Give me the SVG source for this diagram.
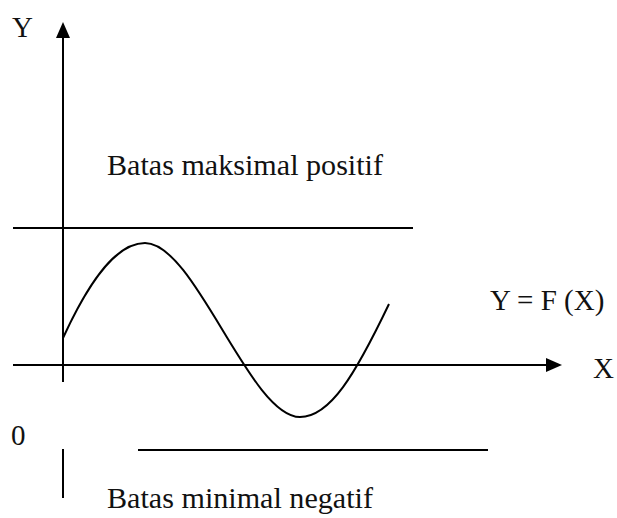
<svg xmlns="http://www.w3.org/2000/svg" width="617" height="518" viewBox="0 0 617 518">
<style>
.ln{stroke:#000;stroke-width:2;fill:none}
.t{font-family:"Liberation Serif","Times New Roman",serif;font-size:29px;fill:#111}
</style>
<defs>
<marker id="ah" markerWidth="16" markerHeight="14" refX="0" refY="7" orient="auto" markerUnits="userSpaceOnUse">
<path d="M0,0 L16,7 L0,14 Z" fill="#000"/>
</marker>
</defs>
<rect width="617" height="518" fill="#fff"/>
<g id="connectors">
<line id="y-axis" class="ln" x1="63" y1="382" x2="63" y2="38" marker-end="url(#ah)"/>
<line id="x-axis" class="ln" x1="13" y1="365" x2="546" y2="365" marker-end="url(#ah)"/>
<line id="y-axis-lower" class="ln" x1="63" y1="449" x2="63" y2="498"/>
</g>
<g id="upper-bound"><line class="ln" x1="13" y1="228" x2="413" y2="228"/></g>
<g id="lower-bound"><line class="ln" x1="138" y1="450" x2="488" y2="450"/></g>
<g id="curve"><path class="ln" d="M63,338 C85,290 113,243 145,243 C195,243 250,417 300,417 C330,417 355,375 389,304"/></g>
<g id="labels">
<text class="t" x="12" y="37">Y</text>
<text class="t" x="593" y="378">X</text>
<text class="t" x="11" y="445">0</text>
<text class="t" x="490" y="310">Y = F (X)</text>
<text class="t" x="107" y="175" textLength="276" lengthAdjust="spacingAndGlyphs">Batas maksimal positif</text>
<text class="t" x="107" y="508" textLength="266" lengthAdjust="spacingAndGlyphs">Batas minimal negatif</text>
</g>
</svg>
